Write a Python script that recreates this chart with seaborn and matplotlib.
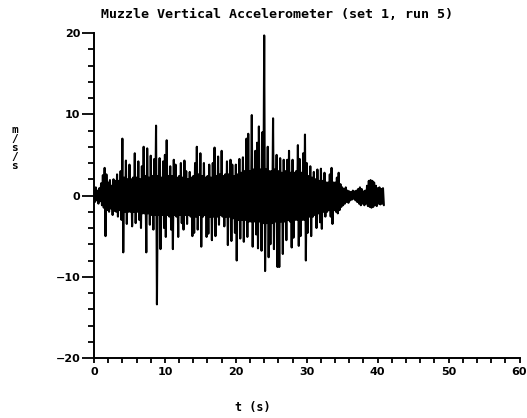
import numpy as np
import pandas as pd
import matplotlib
matplotlib.use("Agg")
import matplotlib.pyplot as plt
import seaborn as sns
from matplotlib.ticker import MultipleLocator

# Sample step of the accelerometer record (s); positive and negative
# excursions alternate every half step.
dt = 0.25

# Positive excursions (m/s/s), four per second from t = 0 s
accel_hi = [
    0.8, 1.0, 0.6, 0.9,   1.5, 2.5, 3.4, 2.6,   1.6, 1.9, 1.2, 2.0,
    1.8, 2.6, 1.8, 3.0,   7.0, 2.2, 4.3, 2.0,   3.8, 2.0, 2.2, 5.2,
    2.2, 4.2, 2.0, 3.6,   6.0, 2.4, 5.8, 2.2,   4.9, 2.4, 4.5, 8.6,
    2.4, 4.6, 2.2, 4.2,   5.0, 6.8, 2.4, 3.6,   2.4, 4.4, 3.8, 2.2,
    2.4, 4.0, 2.2, 4.3,   3.0, 2.0, 2.9, 2.2,   2.4, 4.0, 6.0, 2.6,
    5.2, 2.4, 4.0, 2.2,   2.4, 3.8, 2.2, 4.0,   5.9, 2.4, 4.8, 2.6,
    5.5, 2.4, 2.6, 4.2,   2.6, 4.4, 3.8, 2.4,   3.8, 2.6, 4.5, 2.8,
    4.7, 3.0, 7.0, 7.6,   3.0, 9.9, 3.2, 5.5,   6.5, 8.5, 3.2, 7.8,
    19.7, 3.2, 6.0, 3.0,  3.0, 9.5, 3.2, 5.0,   3.0, 4.6, 2.8, 4.4,
    3.0, 4.4, 5.5, 2.8,   4.4, 2.8, 3.0, 6.2,   4.5, 2.8, 5.2, 7.5,
    4.0, 2.4, 3.6, 2.2,   2.9, 2.0, 3.2, 1.8,   3.3, 1.8, 2.8, 1.6,
    1.6, 2.6, 3.4, 1.6,   1.6, 2.2, 2.8, 1.4,   1.0, 0.8, 1.0, 0.6,
    0.5, 0.4, 0.6, 0.5,   0.6, 0.8, 1.0, 0.8,   0.5, 0.6, 1.2, 1.8,
    1.9, 1.8, 1.6, 1.2,   0.9, 1.0, 0.8, 0.9,
]

# Negative excursions (m/s/s), offset by half a step
accel_lo = [
    -0.8, -0.6, -1.0, -0.7,   -1.2, -1.5, -5.0, -1.8,   -2.0, -1.6, -2.4, -1.9,
    -2.0, -2.6, -1.8, -3.0,   -7.0, -2.0, -3.5, -2.0,   -2.0, -3.8, -2.0, -3.4,
    -2.0, -3.0, -4.0, -2.2,   -2.2, -7.0, -2.2, -3.6,   -2.4, -4.2, -2.4, -13.4,
    -2.4, -6.6, -2.4, -4.0,   -5.1, -2.4, -2.6, -4.2,   -6.6, -2.4, -2.6, -5.1,
    -2.4, -3.4, -4.2, -2.4,   -3.5, -2.4, -2.6, -5.0,   -4.6, -2.6, -4.2, -2.4,
    -6.3, -2.6, -2.4, -5.1,   -4.7, -2.6, -5.5, -2.6,   -5.0, -2.6, -3.6, -2.4,
    -2.6, -3.8, -2.6, -6.1,   -2.6, -5.6, -2.8, -4.6,   -8.0, -3.0, -5.3, -3.0,
    -5.7, -3.0, -5.1, -3.2,   -3.2, -6.3, -3.2, -4.8,   -6.5, -3.2, -6.8, -3.4,
    -9.3, -3.4, -7.6, -6.0,   -3.4, -6.6, -3.2, -8.8,   -8.8, -3.2, -7.2, -3.2,
    -5.5, -3.0, -3.2, -6.4,   -5.2, -3.0, -3.0, -6.2,   -5.0, -3.0, -3.0, -8.0,
    -4.6, -2.6, -5.0, -2.6,   -2.4, -4.0, -2.2, -3.3,   -4.1, -2.0, -2.6, -2.0,
    -1.8, -2.6, -3.5, -1.8,   -2.0, -2.2, -1.8, -1.4,   -1.2, -1.0, -0.8, -0.9,
    -0.6, -0.5, -0.4, -0.6,   -0.8, -1.0, -1.2, -1.0,   -1.2, -1.0, -1.3, -1.4,
    -1.5, -1.4, -1.2, -1.3,   -1.0, -1.1, -1.0, -1.2,
]

x_ticks = [0, 10, 20, 30, 40, 50, 60]
y_ticks = [-20, -10, 0, 10, 20]

# Interleave the two excursion series into one time trace
n = len(accel_hi)
t_hi = np.arange(n) * dt
t_lo = t_hi + dt / 2
t = np.empty(2 * n)
a = np.empty(2 * n)
t[0::2], t[1::2] = t_hi, t_lo
a[0::2], a[1::2] = accel_hi, accel_lo
df = pd.DataFrame({"t": t, "accel": a})

sns.set_theme(style="ticks")
plt.rcParams["font.family"] = ["DejaVu Sans"]

fig = plt.figure(figsize=(5.27, 4.18), dpi=100)
ax = fig.add_axes([94 / 527, 1 - 358 / 418, (519.5 - 94) / 527, (358 - 33) / 418])

sns.lineplot(data=df, x="t", y="accel", ax=ax, sort=False, estimator=None,
             color="black", linewidth=1.5)

ax.set_xlim(0, 60)
ax.set_ylim(-20, 20)
ax.set_xticks(x_ticks)
ax.set_yticks(y_ticks)
ax.xaxis.set_minor_locator(MultipleLocator(2))
ax.yaxis.set_minor_locator(MultipleLocator(2))
ax.set_xlabel("")
ax.set_ylabel("")

for side in ("top", "right"):
    ax.spines[side].set_visible(False)
for side in ("left", "bottom"):
    ax.spines[side].set_linewidth(1.4)
    ax.spines[side].set_color("black")

tick_font = dict(family="DejaVu Sans", weight="bold", size=8)
ax.tick_params(axis="y", which="major", direction="out", length=9, width=1.3,
               pad=1, colors="black")
ax.tick_params(axis="y", which="minor", direction="out", length=4, width=1.3,
               colors="black")
ax.tick_params(axis="x", which="major", direction="out", length=3.5, width=1.3,
               pad=3, colors="black")
ax.tick_params(axis="x", which="minor", direction="out", length=3.5, width=1.3,
               colors="black")
for lab in ax.get_xticklabels() + ax.get_yticklabels():
    lab.set_fontfamily(tick_font["family"])
    lab.set_fontweight(tick_font["weight"])
    lab.set_fontsize(tick_font["size"])

fig.text(277 / 527, 1 - 14 / 418, "Muzzle Vertical Accelerometer (set 1, run 5)",
         ha="center", va="center", fontsize=9.6, fontweight="bold",
         family="DejaVu Sans Mono", color="black")
fig.text(253 / 527, 1 - 407 / 418, "t (s)", ha="center", va="center",
         fontsize=8.5, fontweight="bold", family="DejaVu Sans Mono", color="black")
fig.text(15 / 527, 1 - 148 / 418, "m\n/\ns\n/\ns", ha="center", va="center",
         fontsize=8, fontweight="bold", family="DejaVu Sans Mono",
         linespacing=0.9, color="black")

fig.savefig("out.png", dpi=100, facecolor="white")
